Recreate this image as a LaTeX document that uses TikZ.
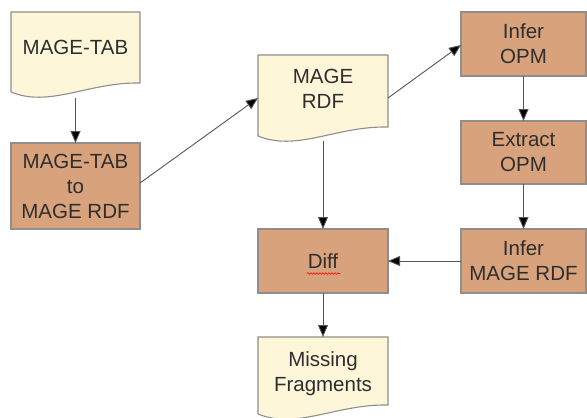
\documentclass[tikz,border=0pt]{standalone}
\usepackage{fontspec}
\setmainfont{Liberation Sans}
\usetikzlibrary{arrows.meta,decorations.pathmorphing}
\definecolor{docfill}{HTML}{FDF6D8}
\definecolor{boxfill}{HTML}{D8A27C}
\definecolor{edgegray}{HTML}{8E8E8E}
\definecolor{linegray}{HTML}{555555}
\definecolor{txt}{HTML}{2E2E2E}
\newcommand\mydocshape[4]{%
  \filldraw[docline] (#1,#3) -- (#2,#3) -- (#2,#4-9)
    .. controls ({#1+0.6*(#2-#1)},#4-10) and ({#1+0.3*(#2-#1)},#4+16) .. (#1,#4) -- cycle;}
\begin{document}
\begin{tikzpicture}[x=1pt,y=-1pt,
  docline/.style={fill=docfill,draw=edgegray,line width=1.1pt},
  geo/.style={draw=none,inner sep=0pt,outer sep=0pt},
  lbl/.style={text=txt,font=\fontsize{20.5}{25}\selectfont,align=center,inner sep=0pt},
  procbox/.style={rectangle,fill=boxfill,draw=edgegray,line width=1.1pt,inner sep=0pt,outer sep=0pt,
    text=txt,font=\fontsize{20.5}{25}\selectfont,align=center},
  conn/.style={draw=linegray,line width=0.9pt,-{Triangle[length=12pt,width=10pt,fill=black]}}]
\useasboundingbox (0,0) rectangle (587,418);
% documents
\mydocshape{11}{140}{12}{92}
\node[geo,minimum width=129pt,minimum height=86pt] (mt) at (75.5,55) {};
\node[lbl] (mttext) at (75.5,47) {MAGE-TAB};
\mydocshape{258}{388}{55}{136}
\node[geo,minimum width=130pt,minimum height=86pt] (rdf) at (323,98) {};
\node[lbl] (rdftext) at (323,89) {MAGE\\RDF};
\mydocshape{258}{388}{337}{414}
\node[geo,minimum width=130pt,minimum height=74pt] (mf) at (323,374) {};
\node[lbl] (mftext) at (323,374) {Missing\\Fragments};
% process boxes
\node[procbox,minimum width=129pt,minimum height=86pt] (mtr) at (75.5,186) {MAGE-TAB\\to\\MAGE RDF};
\node[procbox,minimum width=125pt,minimum height=64pt] (iopm) at (523.5,44) {Infer\\OPM};
\node[procbox,minimum width=125pt,minimum height=63pt] (eopm) at (523.5,152.5) {Extract\\OPM};
\node[procbox,minimum width=125pt,minimum height=64pt] (imr) at (523.5,261) {Infer\\MAGE RDF};
\node[procbox,minimum width=130pt,minimum height=64pt] (diff) at (323,261) {Diff};
\draw[red,line width=0.6pt,decorate,decoration={snake,amplitude=0.8pt,segment length=3pt}]
  (307,273.5) -- (340,273.5);
% connectors
\draw[conn] (mt.south) -- (mtr.north);
\draw[conn] ([yshift=3]mtr.east) -- (rdf.west);
\draw[conn] (rdf.east) -- ([yshift=-1]iopm.west);
\draw[conn] (rdf.south) -- (diff.north);
\draw[conn] (iopm.south) -- (eopm.north);
\draw[conn] (eopm.south) -- (imr.north);
\draw[conn] (imr.west) -- (diff.east);
\draw[conn] (diff.south) -- (mf.north);
\end{tikzpicture}
\end{document}
